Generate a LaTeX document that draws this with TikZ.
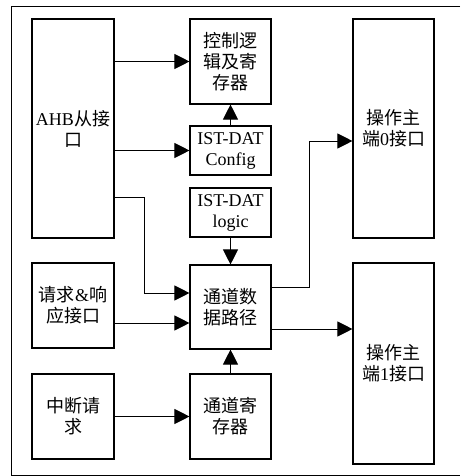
\documentclass[tikz,border=0pt]{standalone}
\usepackage{fontspec}
\setmainfont{Liberation Serif}
\newfontfamily\cjk{Noto Sans CJK SC}
\usetikzlibrary{arrows.meta}
\begin{document}
\begin{tikzpicture}[x=1pt,y=-1pt,
 box/.style={draw, line width=1.1pt, inner sep=0pt, align=center, font=\fontsize{18}{21}\selectfont},
 conn/.style={line width=0.9pt, -{Triangle[length=15pt,width=15pt]}}]
\useasboundingbox (0,0) rectangle (460,476);
\draw[line width=1pt] (460,7) -- (11,7) -- (11,475) -- (460,475);
\node[box, minimum width=82pt, minimum height=219pt] (ahb) at (73,128.5) {AHB{\cjk 从接}\\{\cjk 口}};
\node[box, minimum width=81pt, minimum height=85pt] (ctrl) at (230.5,61.5) {{\cjk 控制逻}\\{\cjk 辑及寄}\\{\cjk 存器}};
\node[box, minimum width=81pt, minimum height=49pt] (cfg) at (230.5,150.5) {IST-DAT\\Config};
\node[box, minimum width=81pt, minimum height=49pt] (lgc) at (230.5,212.5) {IST-DAT\\logic};
\node[box, minimum width=81pt, minimum height=219pt] (op0) at (393.5,128.5) {{\cjk 操作主}\\{\cjk 端}0{\cjk 接口}};
\node[box, minimum width=82pt, minimum height=85pt] (req) at (73,305.5) {{\cjk 请求}\&{\cjk 响}\\{\cjk 应接口}};
\node[box, minimum width=81pt, minimum height=84pt] (dp) at (230.5,307) {{\cjk 通道数}\\{\cjk 据路径}};
\node[box, minimum width=81pt, minimum height=201pt] (op1) at (393.5,363.5) {{\cjk 操作主}\\{\cjk 端}1{\cjk 接口}};
\node[box, minimum width=82pt, minimum height=85pt] (irq) at (73,416.5) {{\cjk 中断请}\\{\cjk 求}};
\node[box, minimum width=81pt, minimum height=85pt] (creg) at (230.5,416.5) {{\cjk 通道寄}\\{\cjk 存器}};
\coordinate (b1) at (144,197);
\coordinate (b2) at (309,141);
\draw[conn] (ahb.east |- ctrl.west) -- (ctrl.west);
\draw[conn] (ahb.east |- cfg.west) -- (cfg.west);
\draw[conn] (cfg.north) -- (ctrl.south);
\draw[conn] (lgc.south) -- (dp.north);
\draw[conn] (creg.north) -- (dp.south);
\draw[conn] (ahb.east |- b1) -- (b1) |- (dp.west |- 0,293);
\draw[conn] (req.east |- 0,323) -- (dp.west |- 0,323);
\draw[conn] (irq.east) -- (creg.west);
\draw[conn] (dp.east |- 0,287) -| (b2) -- (op0.west |- b2);
\draw[conn] (dp.east |- 0,329) -- (op1.west |- 0,329);
\end{tikzpicture}
\end{document}
